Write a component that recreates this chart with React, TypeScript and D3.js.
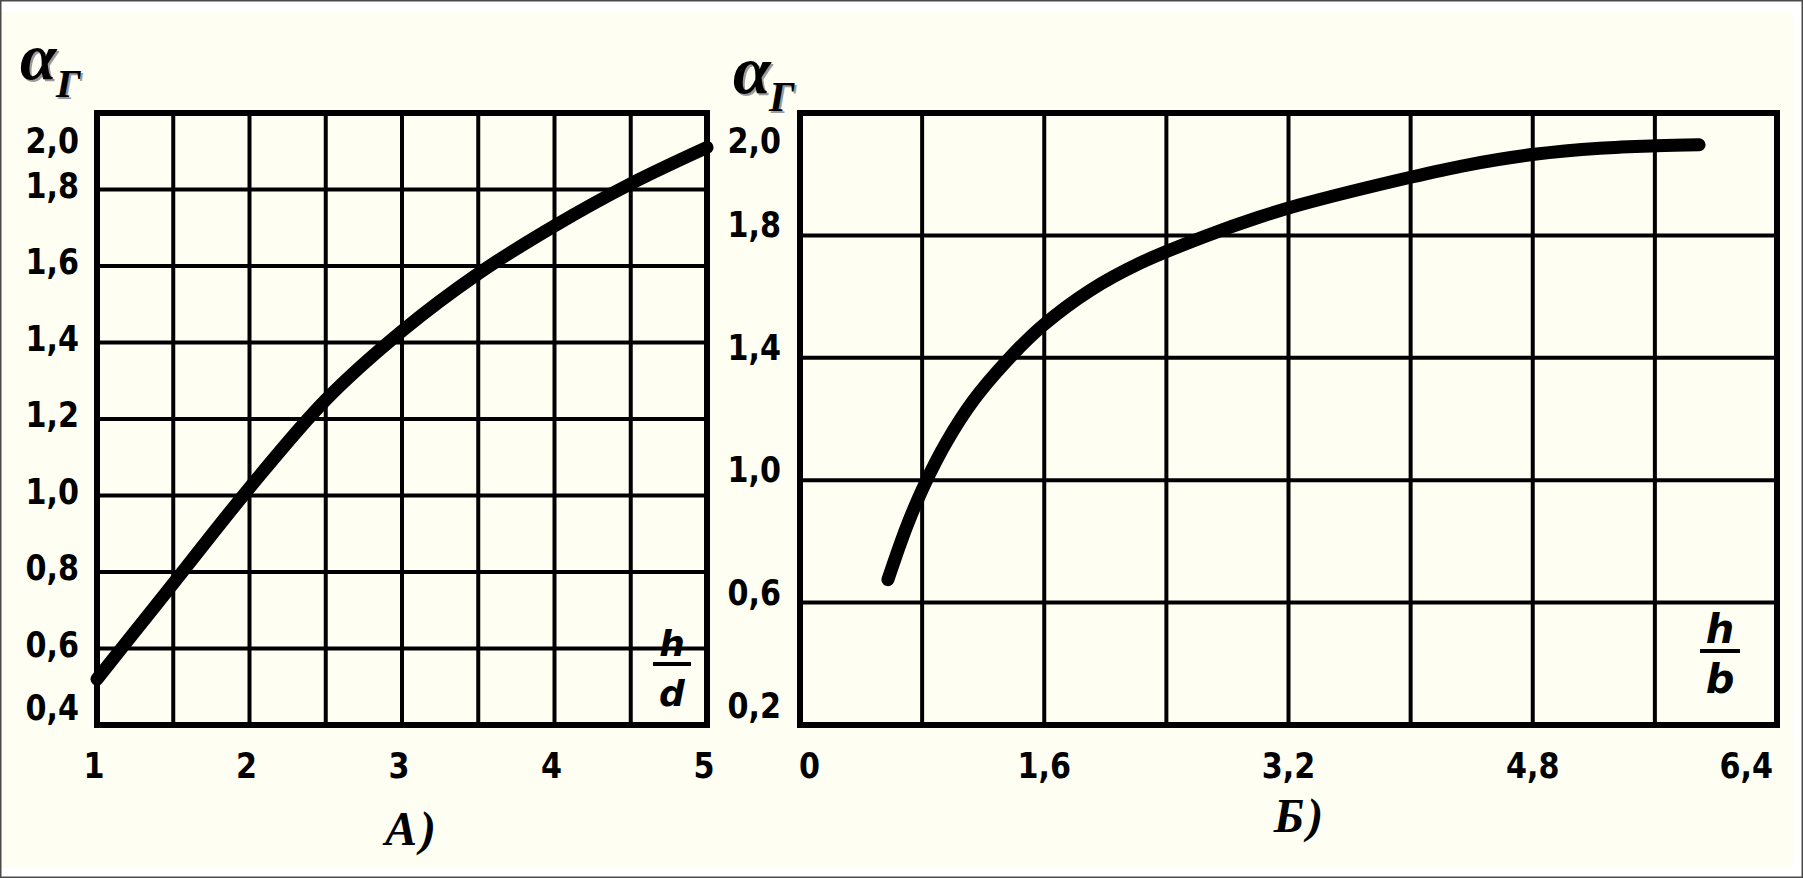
import React from "react";
import * as d3 from "d3";

// ---- data: chart А (h/d) ----
const hdX = [1, 1.25, 1.5, 2, 2.5, 3, 3.5, 4, 4.5, 5];
const hdY = [0.52, 0.645, 0.77, 1.02, 1.25, 1.43, 1.58, 1.705, 1.815, 1.91];
const hdXTicks = [1, 2, 3, 4, 5];
const hdXTickLabels = ["1", "2", "3", "4", "5"];
const hdYTicks = [0.4, 0.6, 0.8, 1.0, 1.2, 1.4, 1.6, 1.8, 2.0];
const hdYTickLabels = ["0,4", "0,6", "0,8", "1,0", "1,2", "1,4", "1,6", "1,8", "2,0"];
const hdXGrid = [1, 1.5, 2, 2.5, 3, 3.5, 4, 4.5, 5];

// ---- data: chart Б (h/b) ----
const hbX = [0.576, 0.7, 0.82, 0.96, 1.135, 1.355, 1.59, 1.9, 2.23, 2.67, 3.01, 3.275, 4.0, 4.37, 4.81, 5.24, 5.61, 5.89];
const hbY = [0.675, 0.85, 0.99, 1.125, 1.26, 1.39, 1.505, 1.62, 1.71, 1.8, 1.86, 1.9, 1.99, 2.03, 2.065, 2.085, 2.093, 2.096];
const hbXTicks = [0, 1.6, 3.2, 4.8, 6.4];
const hbXTickLabels = ["0", "1,6", "3,2", "4,8", "6,4"];
const hbYTicks = [0.2, 0.6, 1.0, 1.4, 1.8, 2.2];
const hbYTickLabels = ["0,2", "0,6", "1,0", "1,4", "1,8", "2,0"];
const hbXGrid = [0, 0.8, 1.6, 2.4, 3.2, 4.0, 4.8, 5.6, 6.4];

const BG = "#FEFEF3";
const TICK_FONT = "'DejaVu Sans', Verdana, sans-serif";
const SERIF = "'Liberation Serif', 'Times New Roman', serif";
const TICK_SIZE = 36;
const TICK_SX = 0.84;

type PanelProps = {
  left: number; right: number; top: number; bottom: number;
  xDomain: [number, number]; yDomain: [number, number];
  xs: number[]; ys: number[];
  xGrid: number[]; yTicks: number[]; yLabels: string[];
  xTicks: number[]; xLabels: string[];
  yLabelRight: number; yLabelShift: number; yBottomClamp: number;
  xLabelMode: "center" | "clamp";
  fracLetter: string; fracX: number; fracFont: number; fracHY: number; fracBarY: number; fracDY: number; fracHalf: number;
  captionText: string; captionX: number; captionY: number;
  alphaX: number; alphaY: number; alphaSize: number;
};

function TickText(props: { x: number; y: number; anchor: "start" | "middle" | "end"; children: string }) {
  return (
    <g transform={`translate(${props.x},${props.y}) scale(${TICK_SX},1)`}>
      <text x={0} y={0} textAnchor={props.anchor} fontFamily={TICK_FONT} fontWeight="bold" fontSize={TICK_SIZE} fill="#000">
        {props.children}
      </text>
    </g>
  );
}

function Panel(p: PanelProps) {
  const x = d3.scaleLinear().domain(p.xDomain).range([p.left, p.right]);
  const y = d3.scaleLinear().domain(p.yDomain).range([p.bottom, p.top]);
  const line = d3
    .line<number>()
    .x((_, i) => x(p.xs[i]))
    .y((d) => y(d))
    .curve(d3.curveCatmullRom.alpha(0.5));
  const path = line(p.ys) || "";
  const nX = p.xTicks.length;
  return (
    <g>
      {p.yTicks.map((v, i) => (
        <line key={"h" + i} x1={p.left} x2={p.right} y1={y(v)} y2={y(v)} stroke="#000" strokeWidth={4} />
      ))}
      {p.xGrid.map((v, i) => (
        <line key={"v" + i} x1={x(v)} x2={x(v)} y1={p.top} y2={p.bottom + 3} stroke="#000" strokeWidth={4} />
      ))}
      <rect x={p.left} y={p.top} width={p.right - p.left} height={p.bottom - p.top} fill="none" stroke="#000" strokeWidth={6} />
      <path d={path} fill="none" stroke="#000" strokeWidth={13} strokeLinecap="round" strokeLinejoin="round" />
      {p.yTicks.map((v, i) => {
        const cy = Math.max(p.top + 27, Math.min(p.bottom - p.yBottomClamp, y(v) + p.yLabelShift));
        return (
          <TickText key={"yl" + i} x={p.yLabelRight} y={cy + 13} anchor="end">
            {p.yLabels[i]}
          </TickText>
        );
      })}
      {p.xTicks.map((v, i) => {
        let anchor: "middle" | "start" | "end" = "middle";
        let tx = x(v) - 3;
        if (p.xLabelMode === "clamp") {
          tx = x(v);
          if (i === 0) { anchor = "start"; tx = x(v) - 1; }
          if (i === nX - 1) { anchor = "end"; tx = x(v) - 4; }
        }
        return (
          <TickText key={"xl" + i} x={tx} y={778} anchor={anchor}>
            {p.xLabels[i]}
          </TickText>
        );
      })}
      <text x={p.fracX} y={p.fracHY} textAnchor="middle" fontFamily={TICK_FONT} fontWeight="bold" fontStyle="italic" fontSize={p.fracFont} fill="#000">h</text>
      <line x1={p.fracX - p.fracHalf} x2={p.fracX + p.fracHalf} y1={p.fracBarY} y2={p.fracBarY} stroke="#000" strokeWidth={4} />
      <text x={p.fracX} y={p.fracDY} textAnchor="middle" fontFamily={TICK_FONT} fontWeight="bold" fontStyle="italic" fontSize={p.fracFont} fill="#000">{p.fracLetter}</text>
      <text x={p.captionX} y={p.captionY} textAnchor="middle" fontFamily={SERIF} fontWeight="bold" fontStyle="italic" fontSize={48} letterSpacing={3} fill="#000">
        {p.captionText}
      </text>
      {[{ dx: 2, dy: 2, c: "#9a9a9a" }, { dx: 0, dy: 0, c: "#000" }].map((s, k) => (
        <g key={"a" + k} transform={`translate(${s.dx},${s.dy})`}>
          <text x={p.alphaX} y={p.alphaY} fontFamily={SERIF} fontWeight="bold" fontStyle="italic" fontSize={p.alphaSize} fill={s.c}>α</text>
          <text x={p.alphaX + 36} y={p.alphaY + 18} fontFamily={SERIF} fontWeight="bold" fontStyle="italic" fontSize={p.alphaSize * 0.62} fill={s.c}>Γ</text>
        </g>
      ))}
    </g>
  );
}

export default function App() {
  const W = 1803, H = 878;
  return (
    <svg width={W} height={H} style={{ position: "absolute", left: 0, top: 0, display: "block" }}>
      <rect x={0} y={0} width={W} height={H} fill={BG} />
      <rect x={0} y={0} width={W} height={12} fill="#ffffff" />
      <rect x={0} y={H - 10} width={W} height={10} fill="#ffffff" />
      <rect x={W - 9} y={0} width={9} height={H} fill="#ffffff" />
      <rect x={0.75} y={0.75} width={W - 1.5} height={H - 1.5} fill="none" stroke="#4a4a4a" strokeWidth={1.5} />
      <Panel
        left={97} right={707} top={113} bottom={725}
        xDomain={[1, 5]} yDomain={[0.4, 2.0]}
        xs={hdX} ys={hdY}
        xGrid={hdXGrid} yTicks={hdYTicks} yLabels={hdYTickLabels}
        xTicks={hdXTicks} xLabels={hdXTickLabels}
        yLabelRight={79} yLabelShift={-5} yBottomClamp={18}
        xLabelMode="center"
        fracLetter="d" fracX={672} fracFont={36} fracHY={656} fracBarY={664} fracDY={706} fracHalf={19}
        captionText="А)" captionX={412} captionY={845}
        alphaX={20} alphaY={79} alphaSize={66}
      />
      <Panel
        left={800} right={1777} top={113} bottom={725}
        xDomain={[0, 6.4]} yDomain={[0.2, 2.2]}
        xs={hbX} ys={hbY}
        xGrid={hbXGrid} yTicks={hbYTicks} yLabels={hbYTickLabels}
        xTicks={hbXTicks} xLabels={hbXTickLabels}
        yLabelRight={781} yLabelShift={-11} yBottomClamp={20}
        xLabelMode="clamp"
        fracLetter="b" fracX={1720} fracFont={40} fracHY={643} fracBarY={651} fracDY={693} fracHalf={20}
        captionText="Б)" captionX={1300} captionY={832}
        alphaX={733} alphaY={93} alphaSize={68}
      />
    </svg>
  );
}
